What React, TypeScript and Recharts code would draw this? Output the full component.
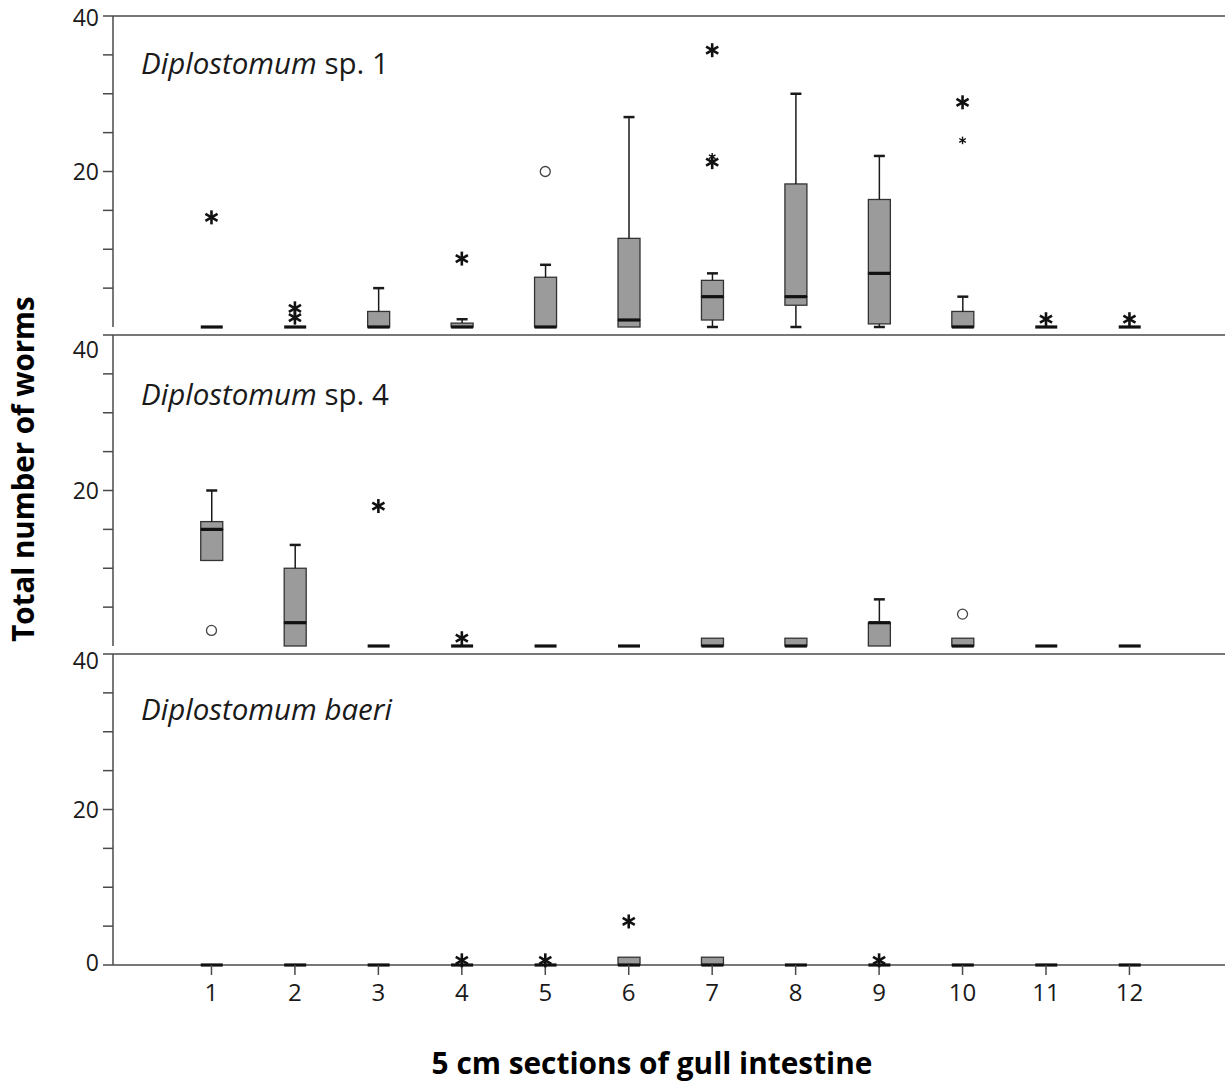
import { Bar, CartesianGrid, ComposedChart, Scatter, XAxis, YAxis } from 'recharts'

const sections = [1, 2, 3, 4, 5, 6, 7, 8, 9, 10, 11, 12]
const yTicks = [0, 5, 10, 15, 20, 25, 30, 35, 40]
const yLabels = [0, 20, 40]
const frameValues = [0, 40]

// each box: [min, q1, median, q3, max]
const sp1Boxes = [
  [0, 0, 0, 0, 0],
  [0, 0, 0, 0, 0],
  [0, 0, 0, 2, 5],
  [0, 0, 0, 0.5, 1],
  [0, 0, 0, 6.4, 8],
  [0, 0, 0.9, 11.4, 27],
  [0, 0.9, 3.9, 6, 6.9],
  [0, 2.8, 3.9, 18.4, 30],
  [0, 0.4, 6.9, 16.4, 22],
  [0, 0, 0, 2, 3.9],
  [0, 0, 0, 0, 0],
  [0, 0, 0, 0, 0],
]
const sp4Boxes = [
  [11, 11, 15, 16, 20],
  [0, 0, 3, 10, 13],
  [0, 0, 0, 0, 0],
  [0, 0, 0, 0, 0],
  [0, 0, 0, 0, 0],
  [0, 0, 0, 0, 0],
  [0, 0, 0, 1, 1],
  [0, 0, 0, 1, 1],
  [0, 0, 3, 3, 6],
  [0, 0, 0, 1, 1],
  [0, 0, 0, 0, 0],
  [0, 0, 0, 0, 0],
]
const baeriBoxes = [
  [0, 0, 0, 0, 0],
  [0, 0, 0, 0, 0],
  [0, 0, 0, 0, 0],
  [0, 0, 0, 0, 0],
  [0, 0, 0, 0, 0],
  [0, 0, 0, 1, 1],
  [0, 0, 0, 1, 1],
  [0, 0, 0, 0, 0],
  [0, 0, 0, 0, 0],
  [0, 0, 0, 0, 0],
  [0, 0, 0, 0, 0],
  [0, 0, 0, 0, 0],
]

type Outlier = { section: number; value: number; mark: 'star' | 'small' | 'circle' }

const sp1Outliers: Outlier[] = [
  { section: 1, value: 14.1, mark: 'star' },
  { section: 2, value: 2.4, mark: 'star' },
  { section: 2, value: 1.2, mark: 'star' },
  { section: 4, value: 8.8, mark: 'star' },
  { section: 5, value: 20, mark: 'circle' },
  { section: 7, value: 35.6, mark: 'star' },
  { section: 7, value: 21.9, mark: 'small' },
  { section: 7, value: 21.2, mark: 'star' },
  { section: 10, value: 28.9, mark: 'star' },
  { section: 10, value: 24, mark: 'small' },
  { section: 11, value: 1, mark: 'star' },
  { section: 12, value: 1, mark: 'star' },
]
const sp4Outliers: Outlier[] = [
  { section: 1, value: 2, mark: 'circle' },
  { section: 3, value: 18, mark: 'star' },
  { section: 4, value: 1, mark: 'star' },
  { section: 10, value: 4.1, mark: 'circle' },
]
const baeriOutliers: Outlier[] = [
  { section: 4, value: 0.6, mark: 'star' },
  { section: 5, value: 0.6, mark: 'star' },
  { section: 6, value: 5.6, mark: 'star' },
  { section: 9, value: 0.6, mark: 'star' },
]

const FONT = '"Open Sans", sans-serif'
const INK = '#1a1a1a'
const AXIS = '#4a4a4a'
const BOX_FILL = '#9b9b9b'
const CAP = 11

function toRows(boxes: number[][]) {
  return boxes.map(([min, q1, med, q3, max], i) => ({
    section: sections[i],
    base: min,
    lowW: q1 - min,
    lowBox: med - q1,
    upBox: q3 - med,
    upW: max - q3,
  }))
}

function LowWhisker(p: any) {
  const { x, y, width, height } = p
  if (!(height > 0.5)) return <g />
  const cx = x + width / 2
  const yb = y + height
  return (
    <g stroke={INK}>
      <line x1={cx} x2={cx} y1={y} y2={yb} strokeWidth={1.5} />
      <line x1={cx - CAP / 2} x2={cx + CAP / 2} y1={yb} y2={yb} strokeWidth={2.5} />
    </g>
  )
}

function UpWhisker(p: any) {
  const { x, y, width, height } = p
  if (!(height > 0.5)) return <g />
  const cx = x + width / 2
  return (
    <g stroke={INK}>
      <line x1={cx} x2={cx} y1={y} y2={y + height} strokeWidth={1.5} />
      <line x1={cx - CAP / 2} x2={cx + CAP / 2} y1={y} y2={y} strokeWidth={2.5} />
    </g>
  )
}

function LowBox(p: any) {
  const { x, y, width, height } = p
  if (!(height > 0.3)) return <g />
  return <rect x={x} y={y} width={width} height={height} fill={BOX_FILL} stroke='#333' strokeWidth={1.3} />
}

function UpBox(p: any) {
  const { x, y, width, height } = p
  const h = height > 0.3 ? height : 0
  return (
    <g>
      {h > 0 && <rect x={x} y={y} width={width} height={h} fill={BOX_FILL} stroke='#333' strokeWidth={1.3} />}
      <line x1={x} x2={x + width} y1={y + h} y2={y + h} stroke='#111' strokeWidth={3.2} />
    </g>
  )
}

function OutlierMark(p: any) {
  const { cx, cy, payload } = p
  if (payload.mark === 'circle') {
    return <circle cx={cx} cy={cy} r={5} fill='#fff' stroke='#444' strokeWidth={1.3} />
  }
  const big = payload.mark === 'star'
  const s = big ? 7 : 3.8
  const dx = s * Math.cos(Math.PI / 6)
  const dy = s * Math.sin(Math.PI / 6)
  return (
    <g stroke='#111' strokeWidth={big ? 2.6 : 1.4}>
      <line x1={cx} x2={cx} y1={cy - s} y2={cy + s} />
      <line x1={cx - dx} x2={cx + dx} y1={cy - dy} y2={cy + dy} />
      <line x1={cx - dx} x2={cx + dx} y1={cy + dy} y2={cy - dy} />
    </g>
  )
}

function makeYTick(shift: Record<number, number>) {
  return (p: any) => {
    const v = p.payload.value
    if (!yLabels.includes(v)) return <g />
    return (
      <text x={p.x} y={p.y + (shift[v] ?? 0)} dy='0.36em' textAnchor='end' fontSize={23} fontFamily={FONT} fill={INK}>
        {v}
      </text>
    )
  }
}

type PanelProps = {
  boxes: number[][]
  outliers: Outlier[]
  top: number
  showX?: boolean
  shift: Record<number, number>
}

function Panel({ boxes, outliers, top, showX, shift }: PanelProps) {
  const rows = toRows(boxes)
  return (
    <div style={{ position: 'absolute', left: 0, top }}>
      <ComposedChart
        width={1225}
        height={showX ? 377 : 335}
        data={rows}
        margin={{ top: 16, right: 0, bottom: showX ? 0 : 8, left: 0 }}
      >
        <CartesianGrid vertical={false} horizontalValues={frameValues} stroke={AXIS} strokeWidth={1.5} />
        <XAxis
          type='number'
          dataKey='section'
          domain={[-0.18, 13.145]}
          ticks={sections}
          height={showX ? 50 : 0}
          axisLine={false}
          tick={showX ? { fontSize: 24, fontFamily: FONT, fill: INK } : false}
          tickLine={showX ? { stroke: AXIS, strokeWidth: 1.5 } : false}
          tickSize={10}
          tickMargin={9}
        />
        <YAxis
          domain={[0, 40]}
          ticks={yTicks}
          width={113}
          tickSize={10}
          tickMargin={4}
          stroke={AXIS}
          strokeWidth={1.5}
          tick={makeYTick(shift)}
        />
        <Bar stackId='box' dataKey='base' barSize={22} shape={() => <g />} isAnimationActive={false} />
        <Bar stackId='box' dataKey='lowW' barSize={22} shape={LowWhisker} isAnimationActive={false} />
        <Bar stackId='box' dataKey='lowBox' barSize={22} shape={LowBox} isAnimationActive={false} />
        <Bar stackId='box' dataKey='upBox' barSize={22} shape={UpBox} isAnimationActive={false} />
        <Bar stackId='box' dataKey='upW' barSize={22} shape={UpWhisker} isAnimationActive={false} />
        <Scatter data={outliers} dataKey='value' shape={OutlierMark} isAnimationActive={false} />
      </ComposedChart>
    </div>
  )
}

export default function App() {
  return (
    <div style={{ position: 'absolute', left: 0, top: 0, width: 1225, height: 1084, background: '#fff' }}>
      <Panel boxes={sp1Boxes} outliers={sp1Outliers} top={0} shift={{ 40: 2, 20: 0, 0: -5 }} />
      <Panel boxes={sp4Boxes} outliers={sp4Outliers} top={319} shift={{ 40: 15, 20: 0, 0: -3 }} />
      <Panel boxes={baeriBoxes} outliers={baeriOutliers} top={638} showX shift={{ 40: 7, 20: 0, 0: -2 }} />
      <svg width={1225} height={1084} style={{ position: 'absolute', left: 0, top: 0, pointerEvents: 'none' }}>
        <text x={141} y={74} fontSize={29.5} fontFamily={FONT} fill={INK}>
          <tspan fontStyle='italic'>Diplostomum</tspan> sp. 1
        </text>
        <text x={141} y={405} fontSize={29.5} fontFamily={FONT} fill={INK}>
          <tspan fontStyle='italic'>Diplostomum</tspan> sp. 4
        </text>
        <text x={141} y={720} fontSize={29.5} fontFamily={FONT} fill={INK} fontStyle='italic'>
          Diplostomum baeri
        </text>
        <text
          transform='translate(34,469) rotate(-90)'
          textAnchor='middle'
          fontSize={29.5}
          fontWeight='bold'
          fontFamily={FONT}
          fill='#000'
        >
          Total number of worms
        </text>
        <text x={652} y={1074} textAnchor='middle' fontSize={29.8} fontWeight='bold' fontFamily={FONT} fill='#000'>
          5 cm sections of gull intestine
        </text>
      </svg>
    </div>
  )
}
